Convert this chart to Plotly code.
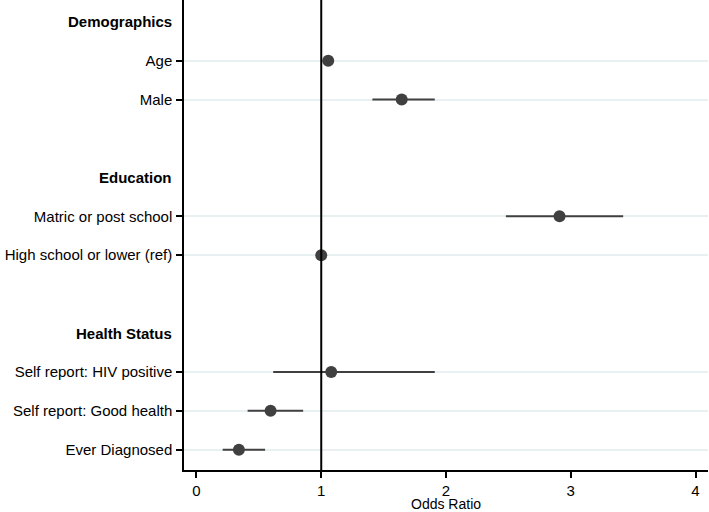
import plotly.graph_objects as go

# Data
labels = ["Age", "Male", "Matric or post school", "High school or lower (ref)",
          "Self report: HIV positive", "Self report: Good health", "Ever Diagnosed"]
odds_ratio = [1.056, 1.645, 2.91, 1.00, 1.08, 0.594, 0.34]
ci_low = [1.04, 1.41, 2.48, 1.00, 0.615, 0.41, 0.21]
ci_high = [1.07, 1.91, 3.42, 1.00, 1.91, 0.855, 0.55]
groups = ["Demographics", "Education", "Health Status"]
group_of = ["Demographics", "Demographics", "Education", "Education",
            "Health Status", "Health Status", "Health Status"]
x_ticks = [0, 1, 2, 3, 4]
x_title = "Odds Ratio"

# Build row order (top to bottom): header, items, blank spacer
order = []
for gi, g in enumerate(groups):
    order.append(("header", g))
    for lab, grp in zip(labels, group_of):
        if grp == g:
            order.append(("item", lab))
    if gi < len(groups) - 1:
        order.append(("blank", ""))
n = len(order)
ypos = {}
header_y = {}
for i, (kind, name) in enumerate(order):
    y = n - i
    if kind == "item":
        ypos[name] = y
    elif kind == "header":
        header_y[name] = y

ys = [ypos[l] for l in labels]
err_plus = [h - o for h, o in zip(ci_high, odds_ratio)]
err_minus = [o - l for o, l in zip(odds_ratio, ci_low)]

FONT = "Liberation Sans, Arial, Helvetica, sans-serif"
DARK = "#404040"

fig = go.Figure()
fig.add_trace(go.Scatter(
    x=odds_ratio, y=ys, mode="markers",
    marker=dict(size=12, color=DARK),
    error_x=dict(type="data", symmetric=False, array=err_plus, arrayminus=err_minus,
                 width=0, thickness=2, color=DARK),
    showlegend=False, hoverinfo="skip",
))

fig.add_shape(type="line", xref="x", yref="paper", x0=1, x1=1, y0=0, y1=1,
              line=dict(color="black", width=2), layer="above")

for g in groups:
    fig.add_annotation(text="<b>" + g + "</b>", xref="paper", yref="y",
                       x=0, y=header_y[g], xanchor="right", yanchor="middle",
                       xshift=-10, showarrow=False,
                       font=dict(family=FONT, size=15, color="black"))

fig.add_annotation(text=x_title, xref="x", yref="paper", x=2, y=0,
                   xanchor="center", yanchor="bottom", yshift=-43, showarrow=False,
                   borderpad=0,
                   font=dict(family=FONT, size=14, color="black"))

fig.update_layout(
    width=709, height=512,
    margin=dict(l=184, r=1, t=0, b=42),
    plot_bgcolor="white", paper_bgcolor="white",
    font=dict(family=FONT, size=15, color="black"),
    xaxis=dict(range=[-0.1, 4.1], tickvals=x_ticks, ticks="outside", ticklen=6,
               tickwidth=1.5, tickcolor="black", showline=True, linecolor="black",
               linewidth=1.5, showgrid=False, zeroline=False, automargin=False,
               ticklabelstandoff=0, tickfont=dict(size=15)),
    yaxis=dict(range=[0.48, n + 0.56], tickvals=ys, ticktext=labels,
               ticks="outside", ticklen=6, tickwidth=1.5, tickcolor="black",
               showline=True, linecolor="black", linewidth=1.5, automargin=False,
               showgrid=True, gridcolor="#e8f0f1", gridwidth=1.5, zeroline=False,
               ticklabelstandoff=1, tickfont=dict(size=15)),
)

fig.write_html("out.html", config={"displayModeBar": False},
               post_script="document.body.style.margin='0px';document.body.style.overflow='hidden';")
